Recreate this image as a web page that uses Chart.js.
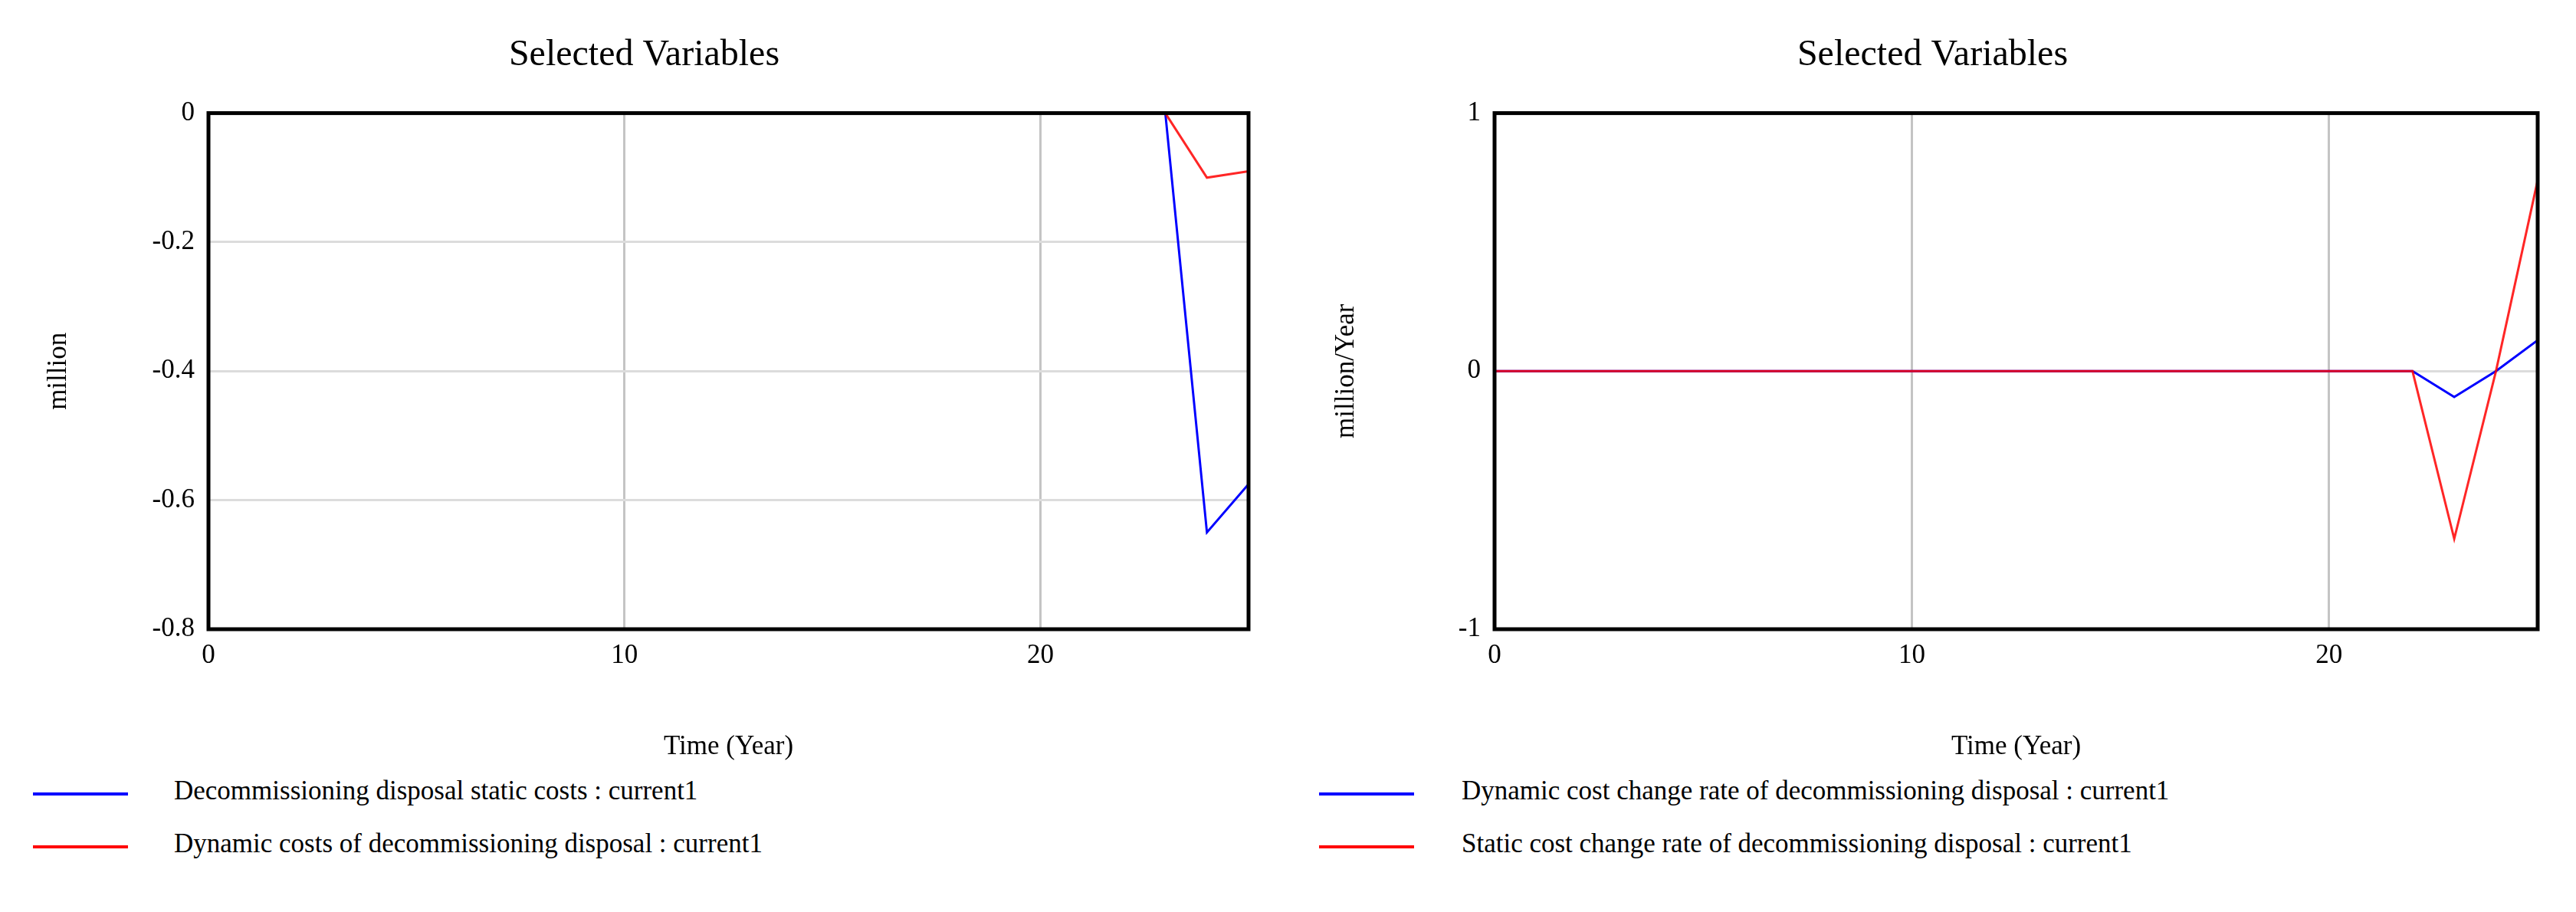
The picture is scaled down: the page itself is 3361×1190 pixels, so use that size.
<!DOCTYPE html>
<html><head><meta charset="utf-8">
<script src="https://cdn.jsdelivr.net/npm/chart.js@4"></script>
<style>
body{margin:0;background:#fff;width:3361px;height:1190px;position:relative;overflow:hidden;font-family:"Liberation Serif",serif}
canvas{position:absolute;top:0}
.leg{position:absolute;font-size:35px;color:#000;white-space:nowrap}
.leg span{position:absolute;height:4px;width:124px}
</style></head><body>
<canvas id="c1" width="1700" height="1000" style="left:0"></canvas>
<canvas id="c2" width="1661" height="1000" style="left:1700px"></canvas>
<div class="leg" style="left:43px;top:1012px"><span style="background:#00f;top:22px"></span><div style="margin-left:184px">Decommissioning disposal static costs : current1</div></div>
<div class="leg" style="left:43px;top:1081px"><span style="background:#f00;top:22px"></span><div style="margin-left:184px">Dynamic costs of decommissioning disposal : current1</div></div>
<div class="leg" style="left:1721px;top:1012px"><span style="background:#00f;top:22px"></span><div style="margin-left:186px">Dynamic cost change rate of decommissioning disposal : current1</div></div>
<div class="leg" style="left:1721px;top:1081px"><span style="background:#f00;top:22px"></span><div style="margin-left:186px">Static cost change rate of decommissioning disposal : current1</div></div>
<script>
// time axis (Year)
var years = [0,1,2,3,4,5,6,7,8,9,10,11,12,13,14,15,16,17,18,19,20,21,22,23,24,25];
// left chart (million)
var staticCosts  = [0,0,0,0,0,0,0,0,0,0,0,0,0,0,0,0,0,0,0,0,0,0,0,0,-0.65,-0.575];
var dynamicCosts = [0,0,0,0,0,0,0,0,0,0,0,0,0,0,0,0,0,0,0,0,0,0,0,0,-0.1,-0.09];
// right chart (million/Year)
var dynamicRate = [0,0,0,0,0,0,0,0,0,0,0,0,0,0,0,0,0,0,0,0,0,0,0,-0.1,0,0.12];
var staticRate  = [0,0,0,0,0,0,0,0,0,0,0,0,0,0,0,0,0,0,0,0,0,0,0,-0.65,0,0.74];
var xTicks = [0,10,20];

Chart.defaults.font.family = "Liberation Serif";
Chart.defaults.color = "#000";

var frame = {
  id:'frame',
  afterDraw: function(chart){
    var a = chart.chartArea, ctx = chart.ctx;
    ctx.save(); ctx.strokeStyle='#000'; ctx.lineWidth=5;
    ctx.strokeRect(a.left, a.top, a.right-a.left, a.bottom-a.top);
    ctx.restore();
  }
};

function pts(ys){ return years.map(function(x,i){ return {x:x, y:ys[i]}; }); }

function makeChart(id, s1, s2, ymin, ymax, step, yLabel, padLeft, yWidth, padRight){
  new Chart(document.getElementById(id), {
    type:'line',
    data:{datasets:[
      {data:pts(s2), borderColor:'rgba(255,0,0,0.85)', borderWidth:3, pointRadius:0, tension:0},
      {data:pts(s1), borderColor:'#0000ff', borderWidth:3, pointRadius:0, tension:0}
    ]},
    options:{
      responsive:false, animation:false, devicePixelRatio:1,
      layout:{padding:{left:padLeft,right:padRight,top:0,bottom:0}},
      plugins:{
        legend:{display:false}, tooltip:{enabled:false},
        title:{display:true, text:'Selected Variables', font:{size:48, weight:'normal'}, padding:{top:44,bottom:46}}
      },
      scales:{
        x:{type:'linear', min:0, max:25,
          afterBuildTicks:function(ax){ ax.ticks = xTicks.map(function(v){return {value:v};}); },
          afterFit:function(ax){ ax.height = 179; },
          grid:{color:function(c){ return c.tick.value===0 ? 'rgba(0,0,0,0)' : '#c4c4c4'; }, lineWidth:3, drawTicks:false},
          border:{display:false},
          ticks:{font:{size:35}, padding:14, maxRotation:0},
          title:{display:true, text:'Time (Year)', font:{size:35}, padding:{top:14}}
        },
        y:{min:ymin, max:ymax,
          afterFit:function(ax){ ax.width = yWidth; },
          grid:{color:'#dcdcdc', lineWidth:3, drawTicks:false},
          border:{display:false},
          ticks:{stepSize:step, font:{size:35}, padding:18},
          title:{display:true, text:yLabel, font:{size:35}, padding:{bottom:0}}
        }
      }
    },
    plugins:[frame]
  });
}

makeChart('c1', staticCosts, dynamicCosts, -0.8, 0, 0.2, 'million', 52, 220, 71);
makeChart('c2', dynamicRate, staticRate, -1, 1, 1, 'million/Year', 32, 218, 50);
</script>
</body></html>
